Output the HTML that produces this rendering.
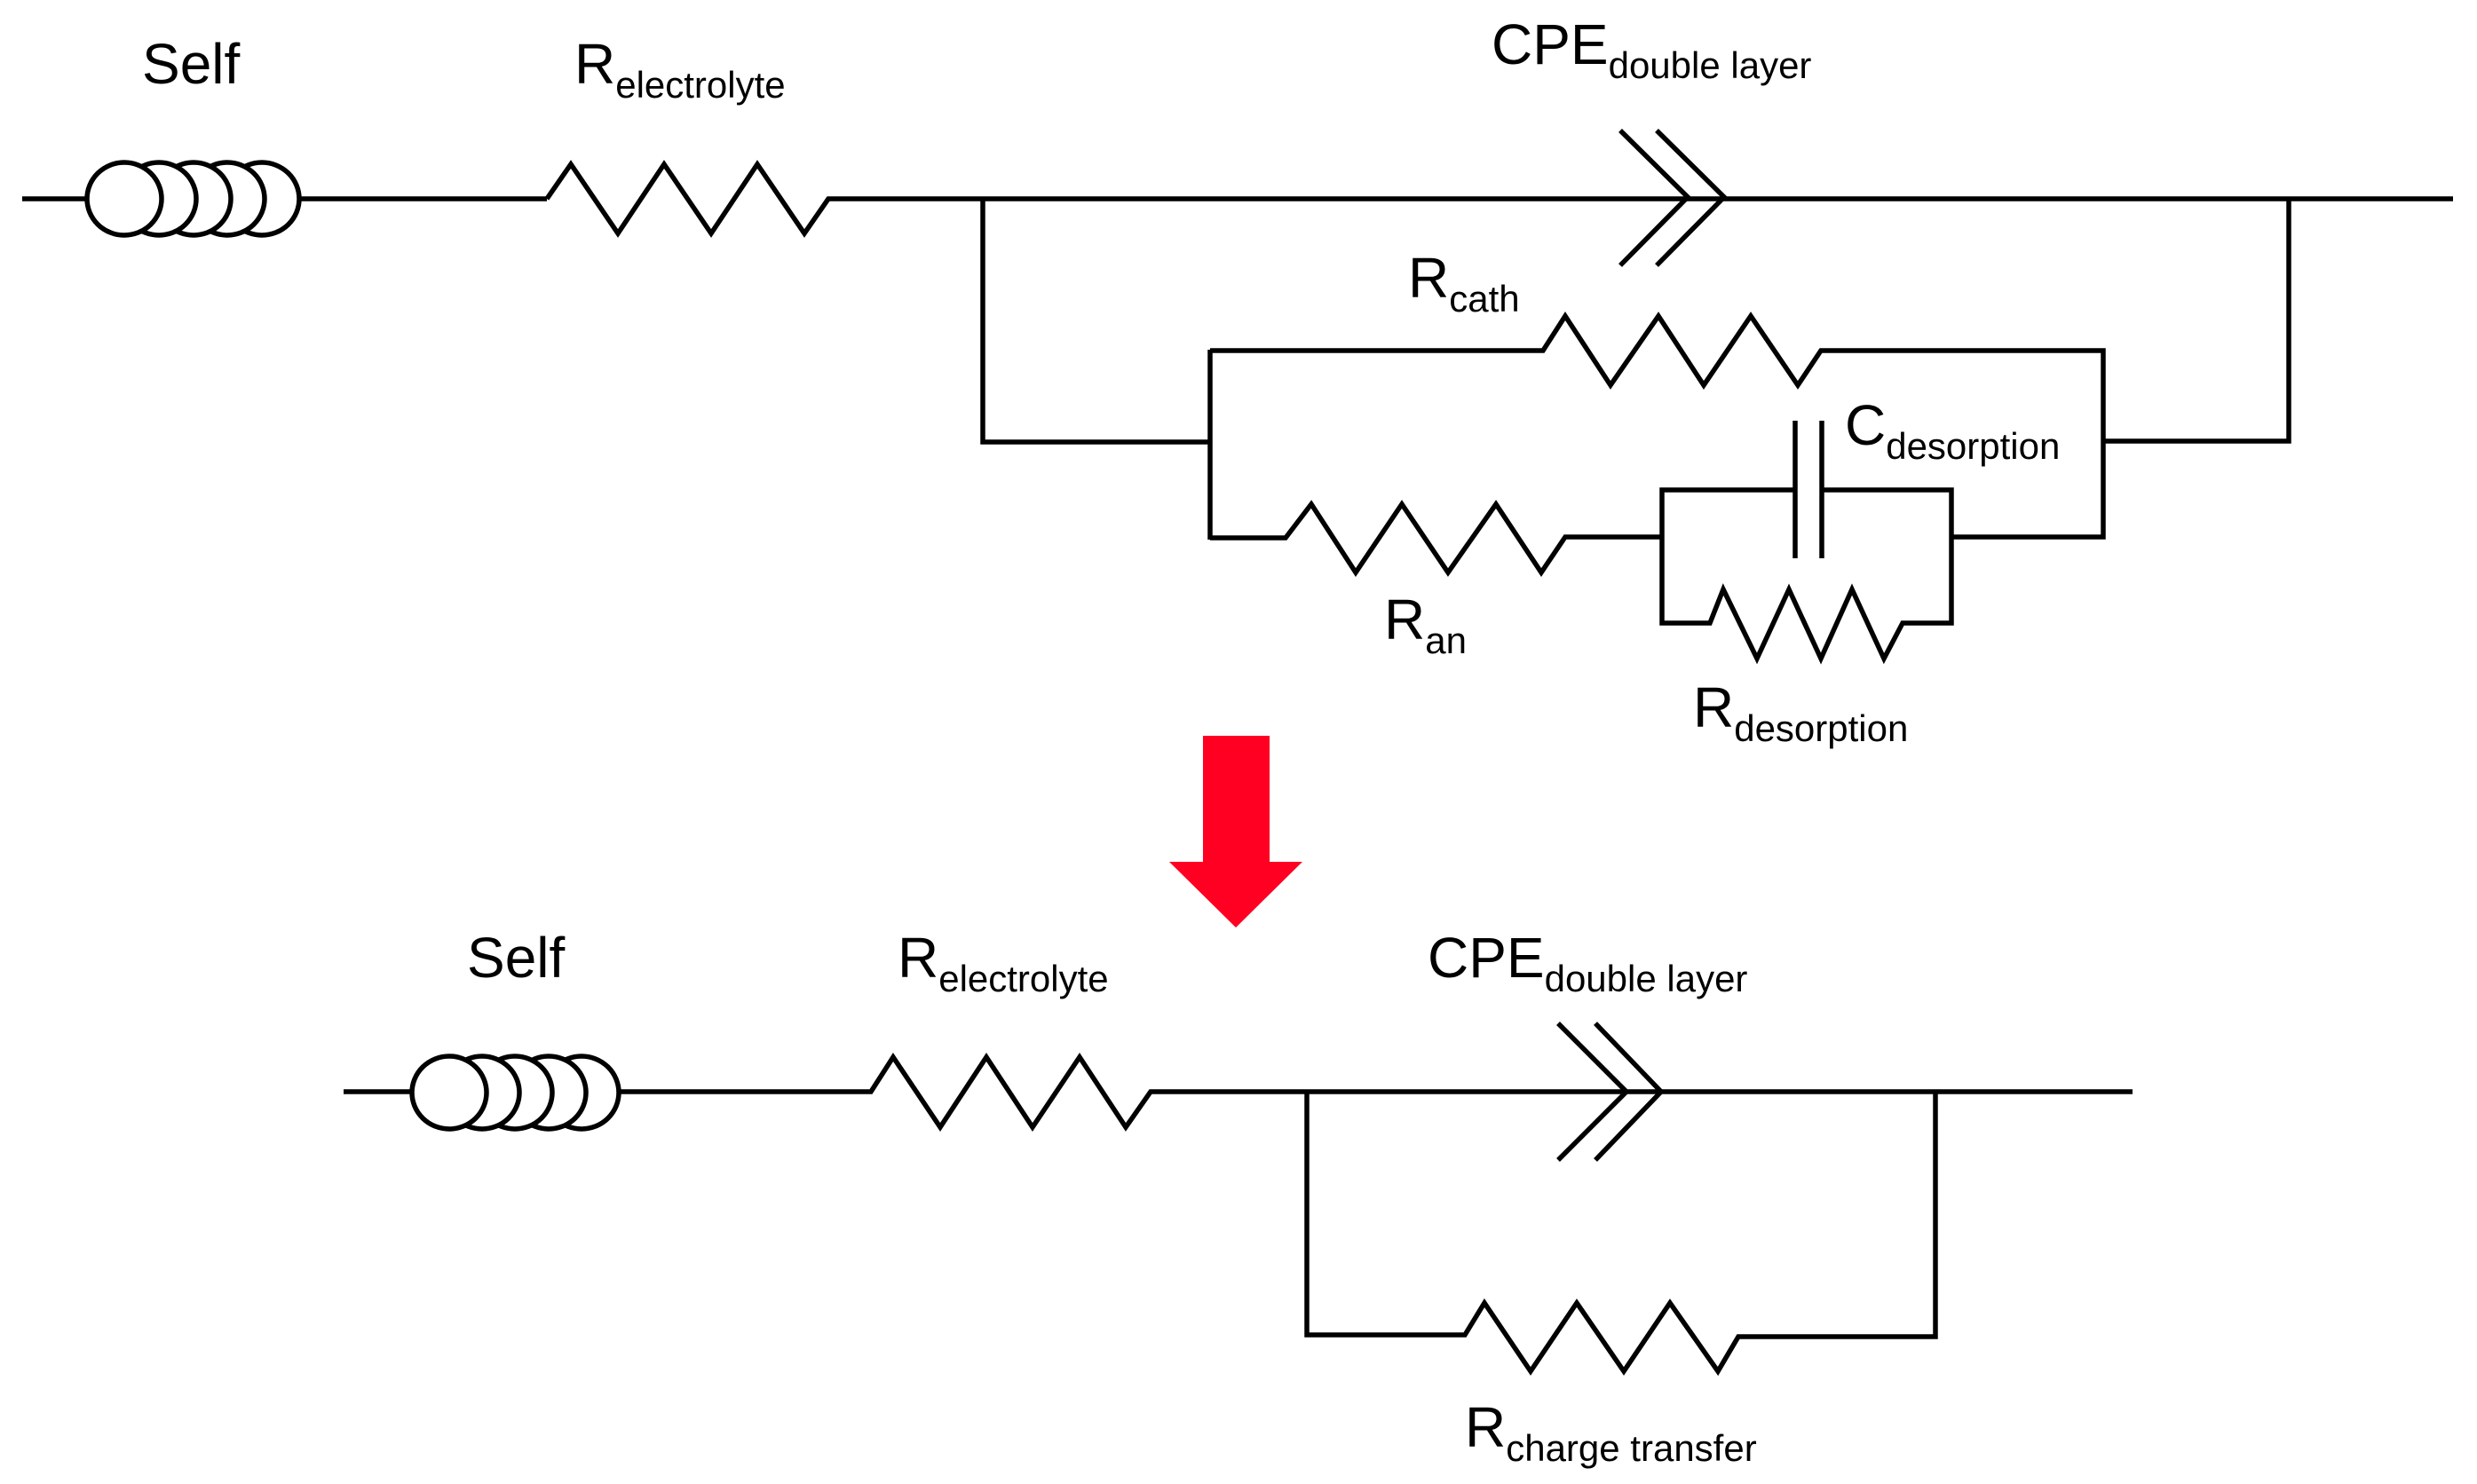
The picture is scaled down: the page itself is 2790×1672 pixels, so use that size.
<!DOCTYPE html>
<html><head><meta charset="utf-8"><style>
html,body{margin:0;padding:0;background:#fff;}
svg{display:block;}
text{font-family:"Liberation Sans",Arial,sans-serif;fill:#000;}
.m{font-size:64px;}
.s{font-size:42px;}
</style></head><body>
<svg width="2790" height="1672" viewBox="0 0 2790 1672" xmlns="http://www.w3.org/2000/svg">
<g fill="none" stroke="#000" stroke-width="5.5" stroke-linejoin="miter">
<!-- TOP -->
<line x1="25" y1="224" x2="98" y2="224"/>
<line x1="337" y1="224" x2="616" y2="224"/>
<polyline points="616,224 643,185 696,263 748,185 801,263 853,185 906,263 933,224 2763,224"/>
<g fill="#fff">
<ellipse cx="295" cy="224" rx="42" ry="41"/>
<ellipse cx="256" cy="224" rx="42" ry="41"/>
<ellipse cx="218" cy="224" rx="42" ry="41"/>
<ellipse cx="179" cy="224" rx="42" ry="41"/>
<ellipse cx="140" cy="224" rx="42" ry="41"/>
</g>
<polyline points="1825,147 1901,222 1825,299"/>
<polyline points="1866,147 1942,222 1866,299"/>
<polyline points="1107,224 1107,498 1363,498"/>
<line x1="1363" y1="394" x2="1363" y2="608"/>
<polyline points="1363,395 1738,395 1763,356 1814,434 1868,356 1919,434 1972,356 2025,434 2051,395 2369,395 2369,605 2198,605"/>
<polyline points="2369,497 2578,497 2578,224"/>
<polyline points="1363,606 1448,606 1477,568 1527,645 1579,568 1631,645 1685,568 1736,645 1763,605 1872,605"/>
<polyline points="2022,552 1872,552 1872,702 1926,702 1941,664 1979,742 2015,664 2051,742 2086,664 2122,742 2143,702 2198,702 2198,552 2052,552"/>
<line x1="2022" y1="474" x2="2022" y2="629"/>
<line x1="2052" y1="474" x2="2052" y2="629"/>
<!-- BOTTOM -->
<line x1="387" y1="1230" x2="464" y2="1230"/>
<polyline points="697,1230 981,1230 1006,1191 1059,1270 1111,1191 1163,1270 1216,1191 1268,1270 1296,1230 2402,1230"/>
<g fill="#fff">
<ellipse cx="655" cy="1231" rx="42" ry="41"/>
<ellipse cx="618" cy="1231" rx="42" ry="41"/>
<ellipse cx="580" cy="1231" rx="42" ry="41"/>
<ellipse cx="543" cy="1231" rx="42" ry="41"/>
<ellipse cx="506" cy="1231" rx="42" ry="41"/>
</g>
<polyline points="1755,1153 1832,1230 1755,1307"/>
<polyline points="1797,1153 1871,1230 1797,1307"/>
<polyline points="1472,1230 1472,1504 1650,1504 1672,1468 1724,1545 1776,1468 1829,1545 1881,1468 1935,1545 1958,1506 2180,1506 2180,1230"/>
</g>
<polygon points="1355,829 1430,829 1430,971 1467,971 1392,1045 1317,971 1355,971" fill="#ff0022"/>
<!-- labels -->
<text x="160" y="94" class="m">Self</text>
<text x="647" y="94" class="m">R<tspan class="s" dy="16">electrolyte</tspan></text>
<text x="1680" y="72" class="m">CPE<tspan class="s" dy="16">double layer</tspan></text>
<text x="1586" y="335" class="m">R<tspan class="s" dy="16">cath</tspan></text>
<text x="2078" y="501" class="m">C<tspan class="s" dy="16">desorption</tspan></text>
<text x="1559" y="720" class="m">R<tspan class="s" dy="16">an</tspan></text>
<text x="1907" y="819" class="m">R<tspan class="s" dy="16">desorption</tspan></text>
<text x="526" y="1101" class="m">Self</text>
<text x="1011" y="1101" class="m">R<tspan class="s" dy="16">electrolyte</tspan></text>
<text x="1608" y="1101" class="m">CPE<tspan class="s" dy="16">double layer</tspan></text>
<text x="1650" y="1630" class="m">R<tspan class="s" dy="16">charge transfer</tspan></text>
</svg>
</body></html>
